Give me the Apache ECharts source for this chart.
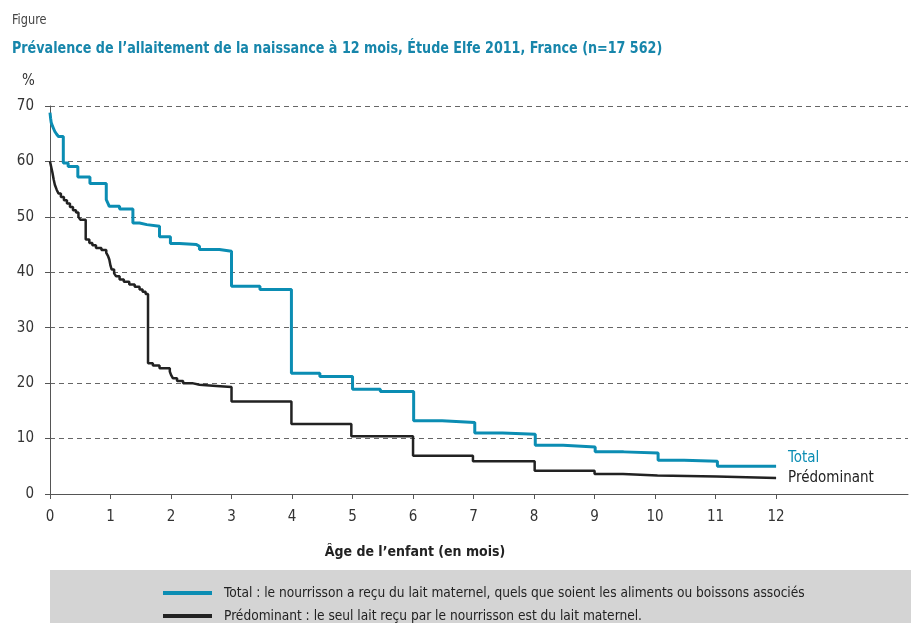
<!DOCTYPE html>
<html>
<head>
<meta charset="utf-8">
<script src="https://cdn.jsdelivr.net/npm/echarts@6/dist/echarts.min.js"></script>
<style>
html,body{margin:0;padding:0;background:#fff;}
#chart{width:911px;height:623px;}
</style>
</head>
<body>
<div id="chart"></div>
<script>
// ---- data (months, % breastfed) ----
const totalMonths = [0, 0.01, 0.02, 0.04, 0.06, 0.08, 0.11, 0.14, 0.22, 0.30, 0.46, 0.66, 0.93, 0.96, 0.98, 1.15, 1.37, 1.48, 1.60, 1.81, 1.99, 2.14, 2.42, 2.47, 2.80, 3.00, 3.47, 3.99, 4.46, 5.00, 5.46, 6.01, 6.48, 7.02, 7.48, 8.02, 8.48, 9.01, 9.48, 10.05, 10.48, 11.03, 12];
const totalValues = [68.8, 67.8, 67.0, 66.4, 65.9, 65.4, 64.9, 64.5, 59.7, 59.1, 57.2, 56.0, 53.1, 52.4, 51.9, 51.4, 48.9, 48.6, 48.3, 46.4, 45.2, 45.0, 44.7, 44.1, 43.8, 37.5, 36.9, 21.8, 21.2, 18.9, 18.5, 13.2, 12.9, 11.0, 10.8, 8.8, 8.5, 7.6, 7.4, 6.1, 5.9, 5.0, 5.0];

const predMonths = [0, 0.02, 0.04, 0.06, 0.08, 0.11, 0.14, 0.18, 0.23, 0.28, 0.33, 0.38, 0.43, 0.47, 0.50, 0.59, 0.65, 0.70, 0.76, 0.85, 0.93, 0.96, 0.98, 1.00, 1.02, 1.06, 1.09, 1.15, 1.22, 1.31, 1.40, 1.48, 1.53, 1.58, 1.62, 1.70, 1.81, 1.98, 2.00, 2.03, 2.10, 2.20, 2.35, 2.47, 2.75, 3.00, 3.99, 4.98, 6.00, 6.99, 8.01, 9.00, 9.47, 10.04, 11.02, 12];
const predValues = [60.0, 59.0, 58.0, 56.8, 55.8, 54.9, 54.2, 53.6, 53.0, 52.4, 51.8, 51.2, 50.8, 50.0, 49.5, 45.9, 45.3, 44.9, 44.4, 44.0, 43.5, 42.9, 42.3, 41.2, 40.5, 39.8, 39.3, 38.7, 38.3, 37.8, 37.4, 36.9, 36.5, 36.1, 23.6, 23.2, 22.7, 22.1, 21.5, 20.9, 20.4, 20.0, 19.7, 19.5, 19.3, 16.7, 12.65, 10.4, 6.9, 5.9, 4.2, 3.6, 3.35, 3.15, 2.9, 2.9];

const xTickValues = [0, 1, 2, 3, 4, 5, 6, 7, 8, 9, 10, 11, 12];
const seriesNames = ['Total', 'Prédominant'];
const legendTexts = {
  'Total': 'Total : le nourrisson a reçu du lait maternel, quels que soient les aliments ou boissons associés',
  'Prédominant': 'Prédominant : le seul lait reçu par le nourrisson est du lait maternel.'
};
const titleText = 'Prévalence de l\u2019allaitement de la naissance à 12 mois, Étude Elfe 2011, France (n=17 562)';
const xAxisName = 'Âge de l\u2019enfant (en mois)';

const FONT = '"DejaVu Sans Condensed", "Liberation Sans Narrow", sans-serif';
const TEAL = '#0b8db3';
const DARK = '#222222';

const zip = (a, b) => a.map((v, i) => [v, b[i]]);

const legendBase = {
  orient: 'horizontal',
  left: 163,
  padding: 0,
  itemWidth: 49,
  itemHeight: 4,
  icon: 'rect',
  formatter: (n) => legendTexts[n],
  textStyle: {fontFamily: FONT, fontSize: 13.6, color: '#222', padding: [0, 0, 0, 7]},
  selectedMode: false
};

const chart = echarts.init(document.getElementById('chart'), null, {renderer: 'canvas'});
chart.setOption({
  animation: false,
  backgroundColor: '#ffffff',
  textStyle: {fontFamily: FONT},
  grid: {left: 50, right: 3, top: 106, bottom: 129, containLabel: false},
  graphic: [
    {type: 'rect', left: 50, top: 570, shape: {width: 861, height: 53}, style: {fill: '#d4d4d4'}, z: -1},
    {type: 'text', x: 12, y: 13, scaleX: 0.9, style: {text: 'Figure', font: '14px ' + FONT, fill: '#444'}},
    {type: 'text', x: 12, y: 41, scaleX: 0.885, style: {text: titleText, font: 'bold 16px ' + FONT, fill: '#1786ab'}},
    {type: 'text', x: 22, y: 74, style: {text: '%', font: '15px ' + FONT, fill: '#333'}}
  ],
  legend: [
    Object.assign({}, legendBase, {top: 586, data: [seriesNames[0]]}),
    Object.assign({}, legendBase, {top: 609, data: [seriesNames[1]]})
  ],
  xAxis: {
    type: 'value',
    min: 0,
    max: 14.18,
    name: xAxisName,
    nameLocation: 'middle',
    nameGap: 51,
    nameTextStyle: {fontFamily: FONT, fontSize: 14, fontWeight: 'bold', color: '#222', padding: [0, 0, 0, -128]},
    axisLine: {show: true, lineStyle: {color: '#555', width: 1}},
    axisTick: {show: true, customValues: xTickValues, length: 5, inside: false, lineStyle: {color: '#555'}},
    axisLabel: {customValues: xTickValues, fontFamily: FONT, fontSize: 15, color: '#333', margin: 16},
    splitLine: {show: false}
  },
  yAxis: {
    type: 'value',
    min: 0,
    max: 70,
    interval: 10,
    axisLine: {show: true, lineStyle: {color: '#555', width: 1}},
    axisTick: {show: true, length: 5, lineStyle: {color: '#555'}},
    axisLabel: {fontFamily: FONT, fontSize: 15, color: '#333', margin: 16},
    splitLine: {show: true, lineStyle: {color: '#666', type: [5, 4], width: 1}}
  },
  series: [
    {
      name: seriesNames[0],
      type: 'line',
      step: 'end',
      showSymbol: false,
      symbol: 'none',
      data: zip(totalMonths, totalValues),
      itemStyle: {color: TEAL},
      lineStyle: {color: TEAL, width: 3},
      endLabel: {show: true, formatter: 'Total', color: TEAL, fontFamily: FONT, fontSize: 15, distance: 0, offset: [12, -8]},
      z: 3
    },
    {
      name: seriesNames[1],
      type: 'line',
      step: 'end',
      showSymbol: false,
      symbol: 'none',
      data: zip(predMonths, predValues),
      itemStyle: {color: DARK},
      lineStyle: {color: DARK, width: 2.5},
      endLabel: {show: true, formatter: 'Prédominant', color: '#222', fontFamily: FONT, fontSize: 15, distance: 0, offset: [12, 0]},
      z: 2
    }
  ]
});
</script>
</body>
</html>
